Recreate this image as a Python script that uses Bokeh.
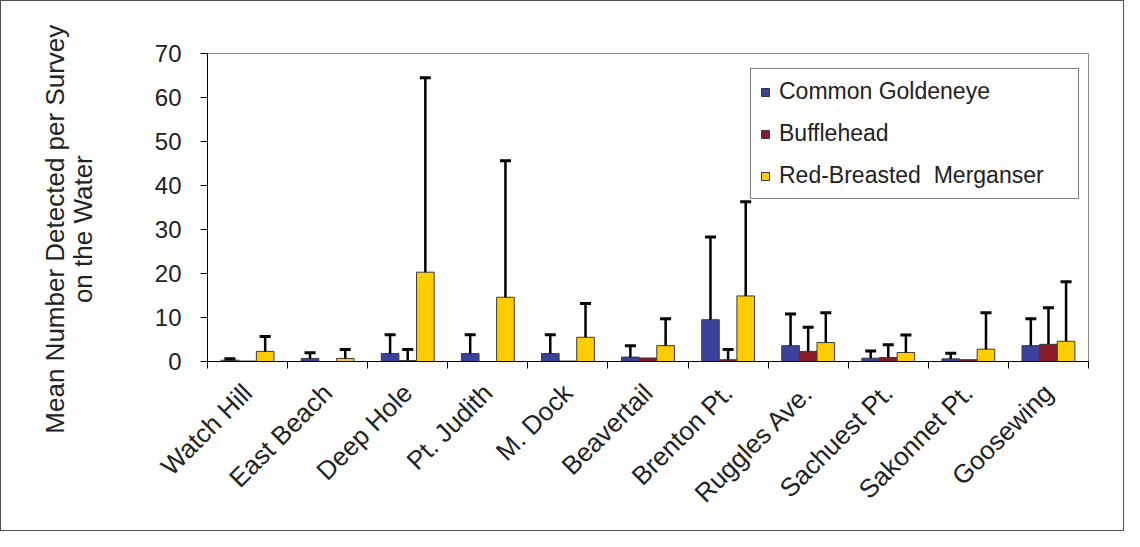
import math
from bokeh.plotting import figure
from bokeh.models import ColumnDataSource, Range1d, FixedTicker, Whisker, TeeHead
from bokeh.transform import dodge
from bokeh.embed import file_html
from bokeh.resources import INLINE

# ---- data ----
sites = ["Watch Hill", "East Beach", "Deep Hole", "Pt. Judith", "M. Dock", "Beavertail",
         "Brenton Pt.", "Ruggles Ave.", "Sachuest Pt.", "Sakonnet Pt.", "Goosewing"]
series_names = ["Common Goldeneye", "Bufflehead", "Red-Breasted  Merganser"]
goldeneye = [0.3, 0.7, 1.8, 1.8, 1.8, 1.0, 9.5, 3.6, 0.75, 0.6, 3.6]
goldeneye_upper = [0.6, 2.0, 6.1, 6.1, 6.1, 3.6, 28.3, 10.8, 2.4, 1.9, 9.7]
bufflehead = [0.1, 0.0, 0.2, 0.0, 0.1, 0.8, 0.4, 2.3, 0.9, 0.4, 3.9]
bufflehead_upper = [0.1, 0.0, 2.7, 0.0, 0.1, 0.8, 2.7, 7.8, 3.8, 0.4, 12.2]
merganser = [2.3, 0.7, 20.3, 14.6, 5.5, 3.6, 14.9, 4.3, 2.05, 2.8, 4.6]
merganser_upper = [5.7, 2.7, 64.5, 45.6, 13.2, 9.7, 36.3, 11.1, 6.0, 11.1, 18.1]
y_ticks = [0, 10, 20, 30, 40, 50, 60, 70]
y_title_lines = ["Mean Number Detected per Survey", "on the Water"]

colors = ["#3B429E", "#8A1A2A", "#FFCC00"]
offsets = [-0.22, 0.0, 0.22]
BAR_W = 0.22
FONT = "Liberation Sans"

xc = [i + 0.5 for i in range(len(sites))]
boundaries = list(range(len(sites) + 1))

p = figure(width=1124, height=531, output_backend="svg", toolbar_location=None,
           x_range=Range1d(0, len(sites)), y_range=Range1d(0, 70),
           min_border_left=206, min_border_right=37, min_border_top=52, min_border_bottom=171)
p.styles = {"border": "1px solid #505050", "box-sizing": "border-box"}
p.background_fill_color = "white"
p.border_fill_color = "white"
p.outline_line_color = "#8c8c8c"
p.outline_line_width = 1
p.xgrid.visible = False
p.ygrid.visible = False

all_vals = [goldeneye, bufflehead, merganser]
all_upper = [goldeneye_upper, bufflehead_upper, merganser_upper]

for name, vals, ups, col, off in zip(series_names, all_vals, all_upper, colors, offsets):
    src = ColumnDataSource(dict(xc=xc, top=vals))
    p.vbar(x=dodge("xc", off), top="top", width=BAR_W, source=src,
           fill_color=col, line_color="#3a3a3a", line_width=1, legend_label=name)
    wx = [x for x, v, u in zip(xc, vals, ups) if u > v]
    wl = [v for v, u in zip(vals, ups) if u > v]
    wu = [u for v, u in zip(vals, ups) if u > v]
    wsrc = ColumnDataSource(dict(xc=wx, lower=wl, upper=wu))
    w = Whisker(base=dodge("xc", off), lower="lower", upper="upper", source=wsrc,
                line_color="black", line_width=2.5,
                upper_head=TeeHead(size=11, line_width=3, line_color="black"),
                lower_head=None, level="overlay")
    p.add_layout(w)

# y axis
ya = p.yaxis[0]
ya.ticker = FixedTicker(ticks=y_ticks)
ya.axis_line_color = "black"
ya.major_tick_line_color = "black"
ya.major_tick_out = 7
ya.major_tick_in = 0
ya.minor_tick_line_color = None
ya.major_label_standoff = 19
ya.major_label_text_font = FONT
ya.major_label_text_font_size = "24px"
ya.major_label_text_color = "#222222"
# trailing padding shifts the centred title a little toward the axis origin, as in the reference
pad = " " * 6
ya.axis_label = "\n".join(line + pad for line in y_title_lines)
ya.axis_label_text_font = FONT
ya.axis_label_text_font_size = "26px"
ya.axis_label_text_font_style = "normal"
ya.axis_label_text_color = "#222222"
ya.axis_label_text_line_height = 0.92
ya.axis_label_standoff = 54

# x axis
xa = p.xaxis[0]
xa.ticker = FixedTicker(ticks=xc, minor_ticks=boundaries)
xa.major_label_overrides = {x: s for x, s in zip(xc, sites)}
xa.axis_line_color = "black"
xa.major_tick_line_color = None
xa.major_tick_out = 0
xa.major_tick_in = 0
xa.minor_tick_line_color = "black"
xa.minor_tick_out = 7
xa.minor_tick_in = 0
xa.major_label_orientation = math.pi / 4
xa.major_label_standoff = 20
xa.major_label_text_font = FONT
xa.major_label_text_font_size = "26px"
xa.major_label_text_color = "#222222"

# legend
lg = p.legend[0]
lg.location = (543, 162)
lg.border_line_color = "black"
lg.border_line_width = 1
lg.background_fill_color = "white"
lg.background_fill_alpha = 1
lg.label_text_font = FONT
lg.label_text_font_size = "23px"
lg.label_text_color = "#222222"
lg.glyph_width = 10
lg.glyph_height = 10
lg.label_standoff = 9
lg.label_width = 290
lg.spacing = 15
lg.padding = 9
lg.margin = 0

open("out.html", "w").write(file_html(p, INLINE))
